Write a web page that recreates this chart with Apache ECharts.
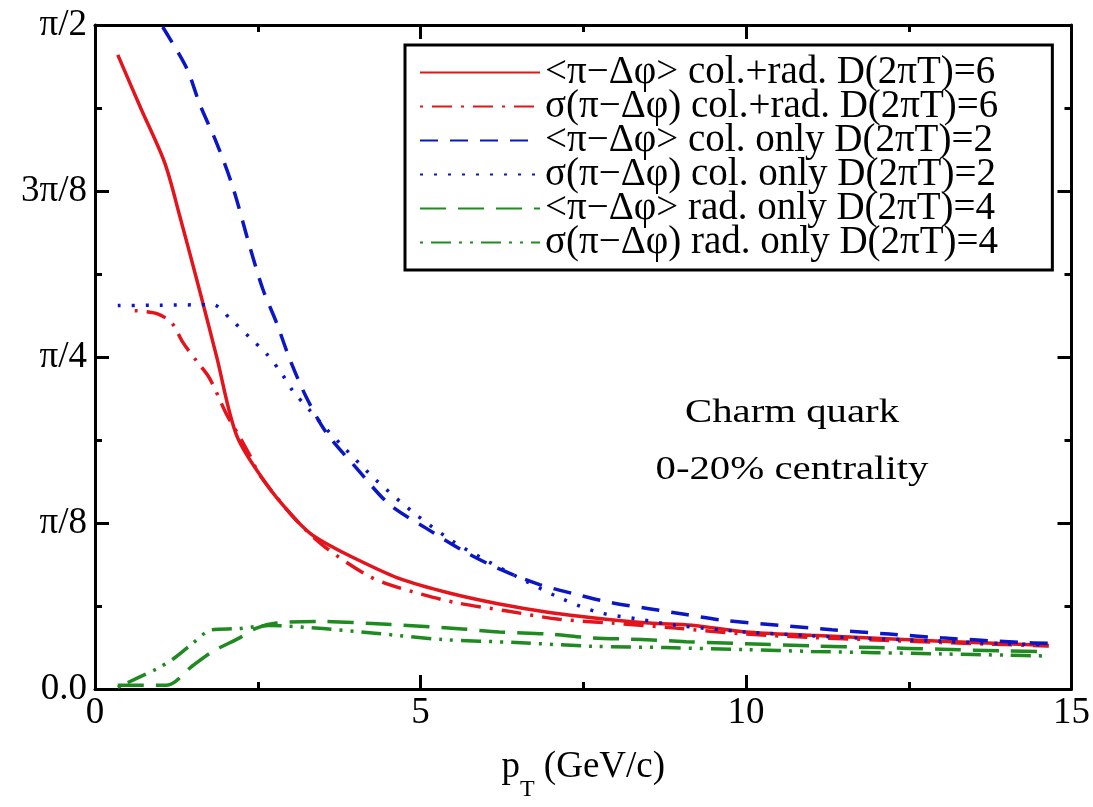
<!DOCTYPE html>
<html>
<head>
<meta charset="utf-8">
<script src="https://cdn.jsdelivr.net/npm/echarts@6/dist/echarts.min.js"></script>
<style>
  html, body { margin: 0; padding: 0; background: #fff; }
  #chart { width: 1093px; height: 807px; }
</style>
</head>
<body>
<div id="chart"></div>
<script>
// <π−Δφ> col.+rad. D(2πT)=6
const colRadMeanX = [0.35, 0.7, 1.07, 1.3, 1.61, 1.87, 2.18, 2.64, 3.0, 3.3, 3.6, 4.02, 4.68, 5.44, 6.21, 6.98, 7.74, 8.51, 9.17, 10.0, 11, 12, 13, 14, 14.65];
const colRadMeanY = [1.50, 1.375, 1.245, 1.12, 0.941, 0.785, 0.598, 0.483, 0.415, 0.369, 0.34, 0.307, 0.261, 0.227, 0.201, 0.181, 0.167, 0.156, 0.151, 0.135, 0.127, 0.12, 0.113, 0.107, 0.103];
// σ(π−Δφ) col.+rad. D(2πT)=6
const colRadSigmaX = [0.61, 0.95, 1.18, 1.35, 1.56, 1.76, 2.02, 2.19, 2.38, 2.53, 3.04, 3.5, 4.17, 4.52, 5.0, 5.55, 6.31, 7.13, 7.94, 8.92, 10, 11, 12, 13, 14, 14.65];
const colRadSigmaY = [0.895, 0.888, 0.866, 0.82, 0.776, 0.735, 0.65, 0.605, 0.552, 0.506, 0.408, 0.34, 0.27, 0.247, 0.225, 0.204, 0.185, 0.165, 0.156, 0.144, 0.13, 0.122, 0.116, 0.11, 0.105, 0.102];
// <π−Δφ> col. only D(2πT)=2
const colMeanX = [1.04, 1.41, 1.61, 1.87, 2.12, 2.38, 2.58, 2.79, 2.99, 3.25, 3.56, 4.02, 4.52, 5.09, 5.7, 6.21, 6.83, 7.39, 7.94, 8.51, 9.08, 9.63, 10.5, 11.32, 12.2, 13.0, 14.23, 14.65];
const colMeanY = [1.566, 1.468, 1.383, 1.291, 1.186, 1.045, 0.945, 0.866, 0.781, 0.689, 0.605, 0.522, 0.437, 0.38, 0.323, 0.284, 0.247, 0.224, 0.204, 0.19, 0.176, 0.163, 0.151, 0.14, 0.13, 0.121, 0.11, 0.108];
// σ(π−Δφ) col. only D(2πT)=2
const colSigmaX = [0.35, 1.0, 1.81, 2.07, 2.38, 2.64, 2.87, 3.04, 3.3, 3.56, 3.8, 4.32, 4.88, 5.49, 6.06, 6.63, 7.18, 7.74, 8.36, 8.92, 10, 11, 12, 13, 14, 14.65];
const colSigmaY = [0.907, 0.908, 0.909, 0.877, 0.831, 0.792, 0.746, 0.705, 0.659, 0.614, 0.575, 0.494, 0.419, 0.35, 0.30, 0.254, 0.213, 0.181, 0.165, 0.151, 0.135, 0.126, 0.119, 0.113, 0.107, 0.104];
// <π−Δφ> rad. only D(2πT)=4
const radMeanX = [0.35, 1.1, 1.5, 1.81, 2.22, 2.48, 2.79, 3.45, 4.26, 4.94, 5.64, 6.21, 6.98, 7.64, 8.4, 9.08, 10, 11, 12, 13, 14, 14.65];
const radMeanY = [0.009, 0.009, 0.055, 0.089, 0.121, 0.144, 0.156, 0.16, 0.155, 0.149, 0.142, 0.135, 0.13, 0.121, 0.117, 0.112, 0.107, 0.102, 0.098, 0.094, 0.09, 0.088];
// σ(π−Δφ) rad. only D(2πT)=4
const radSigmaX = [0.35, 0.64, 0.95, 1.2, 1.5, 1.79, 2.2, 2.68, 3.5, 4.3, 5.34, 6.47, 7.64, 8.77, 10, 11, 12, 13, 14, 14.65];
const radSigmaY = [0.004, 0.025, 0.048, 0.071, 0.108, 0.14, 0.143, 0.15, 0.143, 0.132, 0.117, 0.11, 0.101, 0.098, 0.093, 0.089, 0.086, 0.083, 0.08, 0.078];

const yTickLabels = ['0.0', 'π/8', 'π/4', '3π/8', 'π/2'];
const seriesNames = [
  '<π−Δφ> col.+rad. D(2πT)=6',
  'σ(π−Δφ) col.+rad. D(2πT)=6',
  '<π−Δφ> col. only D(2πT)=2',
  'σ(π−Δφ) col. only D(2πT)=2',
  '<π−Δφ> rad. only D(2πT)=4',
  'σ(π−Δφ) rad. only D(2πT)=4'
];

const RED = '#e3141b', BLUE = '#0b16c4', GREEN = '#1f8a1f';
const FONT = 'Liberation Serif';
const zip = (xs, ys) => xs.map((x, i) => [x, ys[i]]);

const mk = (name, xs, ys, color, type) => ({
  name, type: 'line', data: zip(xs, ys), showSymbol: false, symbol: 'none',
  smooth: 0.3, clip: true,
  lineStyle: { color, width: 3.5, type, cap: 'butt' },
  itemStyle: { color }
});

const axisCommon = {
  axisLine: { show: true, onZero: false, lineStyle: { color: '#000', width: 3 } },
  axisTick: { show: true, inside: true, length: 14, lineStyle: { color: '#000', width: 3 } },
  minorTick: { show: true, splitNumber: 2, length: 7, lineStyle: { color: '#000', width: 3 } },
  splitLine: { show: false }
};

const chart = echarts.init(document.getElementById('chart'), null, { renderer: 'canvas' });
chart.setOption({
  backgroundColor: '#fff',
  animation: false,
  grid: { left: 95, right: 20, top: 25, bottom: 96 },
  xAxis: [
    Object.assign({
      type: 'value', min: 0, max: 15, interval: 5, position: 'bottom',
      name: '{a|p}{s|T}{a| (GeV/c)}', nameLocation: 'middle', nameGap: 60,
      nameTextStyle: { rich: {
        a: { fontFamily: FONT, fontSize: 37, color: '#000' },
        s: { fontFamily: FONT, fontSize: 24, color: '#000', verticalAlign: 'bottom', padding: [0, 0, -16, 0] }
      } },
      axisLabel: { fontFamily: FONT, fontSize: 37, color: '#000', margin: 6 }
    }, axisCommon),
    Object.assign({
      type: 'value', min: 0, max: 15, interval: 5, position: 'top',
      axisLabel: { show: false }
    }, axisCommon)
  ],
  yAxis: [
    Object.assign({
      type: 'value', min: 0, max: Math.PI / 2, interval: Math.PI / 8, position: 'left',
      axisLabel: {
        fontFamily: FONT, fontSize: 37, color: '#000', margin: 8,
        formatter: v => yTickLabels[Math.round(v / (Math.PI / 8))]
      }
    }, axisCommon),
    Object.assign({
      type: 'value', min: 0, max: Math.PI / 2, interval: Math.PI / 8, position: 'right',
      axisLabel: { show: false }
    }, axisCommon)
  ],
  legend: {
    orient: 'vertical', left: 405, top: 45,
    padding: [8, 54, 8, 14],
    borderColor: '#000', borderWidth: 3, backgroundColor: '#fff',
    itemWidth: 120, itemHeight: 14, itemGap: -5,
    itemStyle: { opacity: 0 },
    textStyle: { fontFamily: FONT, fontSize: 39, color: '#000' },
    data: seriesNames
  },
  graphic: [
    { type: 'text', x: 792, y: 413, scaleX: 1.2,
      style: { text: 'Charm quark', font: '34px "Liberation Serif"', fill: '#000', align: 'center', verticalAlign: 'middle' } },
    { type: 'text', x: 792, y: 470, scaleX: 1.2,
      style: { text: '0-20% centrality', font: '34px "Liberation Serif"', fill: '#000', align: 'center', verticalAlign: 'middle' } }
  ],
  series: [
    mk(seriesNames[0], colRadMeanX, colRadMeanY, RED, 'solid'),
    mk(seriesNames[1], colRadSigmaX, colRadSigmaY, RED, [3, 9, 20, 9]),
    mk(seriesNames[2], colMeanX, colMeanY, BLUE, [18, 12]),
    mk(seriesNames[3], colSigmaX, colSigmaY, BLUE, [3, 11]),
    mk(seriesNames[4], radMeanX, radMeanY, GREEN, [26, 12]),
    mk(seriesNames[5], radSigmaX, radSigmaY, GREEN, [3, 8, 20, 8, 3, 8])
  ]
});
</script>
</body>
</html>
